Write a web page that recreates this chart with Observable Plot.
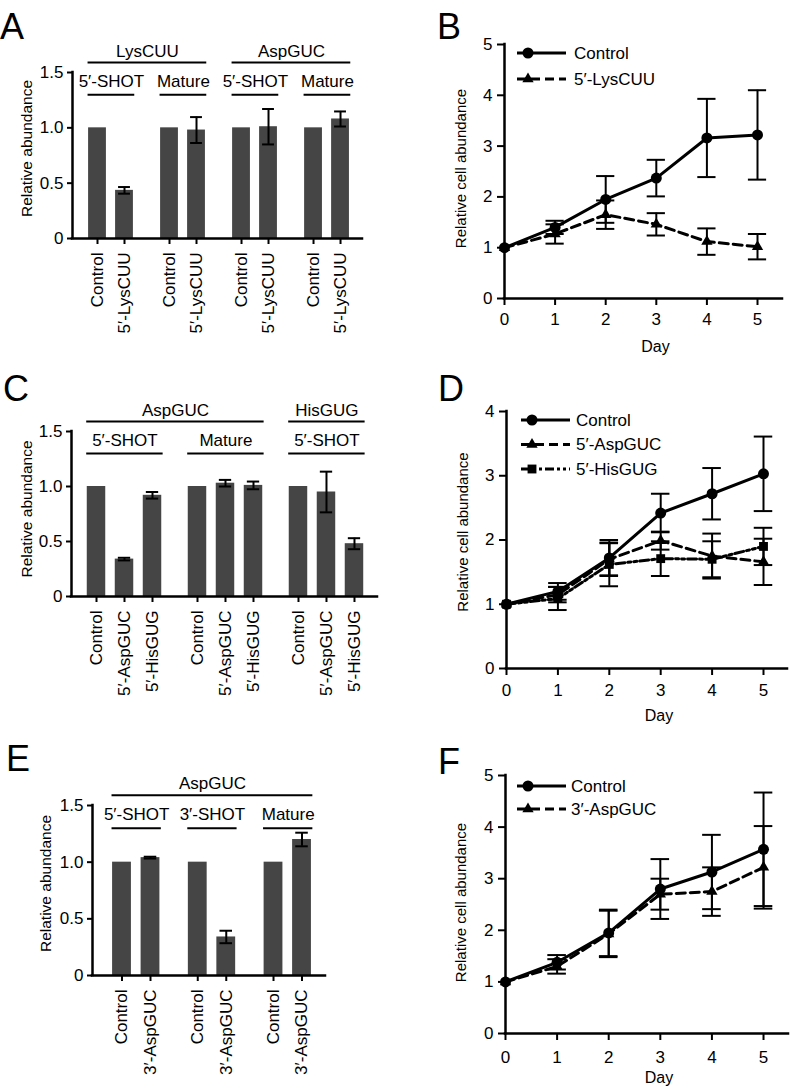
<!DOCTYPE html>
<html><head><meta charset="utf-8">
<script src="https://cdn.jsdelivr.net/npm/d3@7"></script>
<script src="https://cdn.jsdelivr.net/npm/@observablehq/plot@0.6"></script>
<style>
body{margin:0;background:#fff;}
#fig{position:relative;width:793px;height:1089px;overflow:hidden;font-family:"Liberation Sans",Arial,Helvetica,sans-serif;color:#000;}
.letter{position:absolute;font-size:36px;line-height:36px;}
</style></head><body><div id="fig"></div>
<script>
// ---------- Panel A data ----------
const aCategories = ["Control", "5′-LysCUU"];
const aSubgroups = ["5′-SHOT", "Mature", "5′-SHOT", "Mature"];
const aSupergroups = ["LysCUU", "AspGUC"];
const aSuperSpan = [[0, 1], [2, 3]];
const aValues = [1.0, 0.435, 1.0, 0.98, 1.0, 1.01, 1.0, 1.08];
const aErrors = [0, 0.03, 0, 0.117, 0, 0.16, 0, 0.068];

// ---------- Panel C data ----------
const cCategories = ["Control", "5′-AspGUC", "5′-HisGUG"];
const cSubgroups = ["5′-SHOT", "Mature", "5′-SHOT"];
const cSupergroups = ["AspGUC", "HisGUG"];
const cSuperSpan = [[0, 1], [2, 2]];
const cValues = [1.0, 0.34, 0.92, 1.0, 1.03, 1.01, 1.0, 0.95, 0.48];
const cErrors = [0, 0.012, 0.03, 0, 0.03, 0.035, 0, 0.185, 0.05];

// ---------- Panel E data ----------
const eCategories = ["Control", "3′-AspGUC"];
const eSubgroups = ["5′-SHOT", "3′-SHOT", "Mature"];
const eSupergroups = ["AspGUC"];
const eSuperSpan = [[0, 2]];
const eValues = [1.0, 1.04, 1.0, 0.34, 1.0, 1.2];
const eErrors = [0, 0.008, 0, 0.055, 0, 0.06];

const barTicks = [0, 0.5, 1.0, 1.5];

// ---------- Growth curves ----------
const days = [0, 1, 2, 3, 4, 5];
// B
const bControl = [1, 1.4, 1.95, 2.37, 3.16, 3.22];
const bControlErr = [0, 0.13, 0.46, 0.36, 0.77, 0.88];
const bLys = [1, 1.27, 1.65, 1.46, 1.12, 1.02];
const bLysErr = [0, 0.19, 0.28, 0.22, 0.26, 0.25];
// D
const dControl = [1, 1.2, 1.72, 2.42, 2.72, 3.03];
const dControlErr = [0, 0.13, 0.28, 0.3, 0.4, 0.58];
const dAsp = [1, 1.15, 1.7, 1.99, 1.75, 1.66];
const dAspErr = [0, 0.12, 0.25, 0.14, 0.35, 0.36];
const dHis = [1, 1.09, 1.62, 1.71, 1.7, 1.9];
const dHisErr = [0, 0.18, 0.34, 0.27, 0.28, 0.29];
// F
const fControl = [1, 1.38, 1.95, 2.8, 3.13, 3.57];
const fControlErr = [0, 0.14, 0.45, 0.58, 0.72, 1.1];
const fAsp = [1, 1.3, 1.93, 2.7, 2.75, 3.22];
const fAspErr = [0, 0.14, 0.45, 0.3, 0.47, 0.8];

// ---------- styling ----------
const FONT = "'Liberation Sans', Arial, Helvetica, sans-serif";
const BAR = "#454545";
const SUB_LINE = 1.30, SUB_TEXT = 1.42, SUP_LINE = 1.59, SUP_TEXT = 1.69;
const fig = document.getElementById("fig");
const baseStyle = {fontFamily: FONT, fontSize: "16px", background: "transparent", overflow: "visible", color: "#000"};

function place(node, left, top) {
  node.style.position = "absolute";
  node.style.left = left + "px";
  node.style.top = top + "px";
  fig.appendChild(node);
}

function letter(t, left, top) {
  const d = document.createElement("div");
  d.className = "letter";
  d.textContent = t;
  d.style.left = left + "px";
  d.style.top = top + "px";
  fig.appendChild(d);
}

function barPanel(c) {
  const n = c.categories.length;
  const hw = 0.33, cw = 0.22;
  const rows = c.values.map((v, k) => {
    const g = Math.floor(k / n), i = k % n;
    return {pos: g * c.groupStep + i, v, e: c.errors[k], label: c.categories[i]};
  });
  const errRows = rows.filter(d => d.e > 0);
  const sub = c.subgroups.map((name, g) => ({name, x1: g * c.groupStep - hw - 0.02, x2: g * c.groupStep + (n - 1) + hw + 0.05}));
  const sup = c.supergroups.map((name, s) => ({name, x1: sub[c.superSpan[s][0]].x1, x2: sub[c.superSpan[s][1]].x2}));
  const mid = d => (d.x1 + d.x2) / 2;
  const labelOf = p => (rows.find(r => Math.abs(r.pos - p) < 1e-6) || {label: ""}).label;
  const chart = Plot.plot({
    width: c.width, height: c.height,
    marginLeft: c.marginLeft, marginRight: c.marginRight, marginTop: c.marginTop, marginBottom: c.marginBottom,
    style: baseStyle,
    x: {domain: c.xDomain, axis: null},
    y: {domain: [0, 1.5], axis: null},
    marks: [
      Plot.rectY(rows, {x1: d => d.pos - hw, x2: d => d.pos + hw, y1: 0, y2: "v", fill: BAR}),
      Plot.ruleX(errRows, {x: "pos", y1: d => d.v - d.e, y2: d => d.v + d.e, stroke: "#000", strokeWidth: 2}),
      Plot.ruleY(errRows, {y: d => d.v + d.e, x1: d => d.pos - cw, x2: d => d.pos + cw, stroke: "#000", strokeWidth: 2}),
      Plot.ruleY(errRows, {y: d => d.v - d.e, x1: d => d.pos - cw, x2: d => d.pos + cw, stroke: "#000", strokeWidth: 2}),
      Plot.ruleX([c.xDomain[0]], {y1: 0, y2: 1.5, stroke: "#000", strokeWidth: 2.5, strokeLinecap: "square"}),
      Plot.ruleY([0], {x1: c.xDomain[0], x2: c.xDomain[1], stroke: "#000", strokeWidth: 2.5, strokeLinecap: "square"}),
      Plot.axisY({ticks: barTicks, tickFormat: d => d === 0 ? "0" : d.toFixed(1), tickSize: 5, tickPadding: 4, strokeWidth: 2, fontSize: 17, label: null}),
      Plot.axisX({ticks: rows.map(d => d.pos), tickFormat: labelOf, tickRotate: -90, tickSize: 6, tickPadding: 8, strokeWidth: 2, fontSize: 17, label: null}),
      Plot.text(["Relative abundance"], {frameAnchor: "left", textAnchor: "middle", rotate: -90, lineAnchor: "top", dx: c.labelDx, dy: c.labelDy, fontSize: 15.5, text: d => d}),
      Plot.ruleY(sub, {y: SUB_LINE, x1: "x1", x2: "x2", stroke: "#000", strokeWidth: 2}),
      Plot.text(sub, {x: mid, y: SUB_TEXT, text: "name", fontSize: 17}),
      Plot.ruleY(sup, {y: SUP_LINE, x1: "x1", x2: "x2", stroke: "#000", strokeWidth: 2}),
      Plot.text(sup, {x: mid, y: SUP_TEXT, text: "name", fontSize: 17})
    ]
  });
  place(chart, c.left, c.top);
}

function linePanel(c) {
  const marks = [];
  const rowsOf = s => days.map((d, i) => ({day: d, v: s.values[i], e: s.errors[i]}));
  for (const s of c.series) {
    const er = rowsOf(s).filter(d => d.e > 0);
    marks.push(Plot.ruleX(er, {x: "day", y1: d => d.v - d.e, y2: d => d.v + d.e, stroke: "#000", strokeWidth: 2}));
    marks.push(Plot.ruleY(er, {y: d => d.v + d.e, x1: d => d.day - c.cap, x2: d => d.day + c.cap, stroke: "#000", strokeWidth: 2}));
    marks.push(Plot.ruleY(er, {y: d => d.v - d.e, x1: d => d.day - c.cap, x2: d => d.day + c.cap, stroke: "#000", strokeWidth: 2}));
  }
  for (const s of [...c.series].reverse()) {
    marks.push(Plot.line(rowsOf(s), {x: "day", y: "v", stroke: "#000", strokeWidth: 3, strokeDasharray: s.dash}));
  }
  for (const s of c.series) {
    marks.push(Plot.dot(rowsOf(s), {x: "day", y: "v", symbol: s.symbol, r: s.r, fill: "#000", stroke: "none"}));
  }
  const yMax = c.yDomain[1];
  marks.push(
    Plot.ruleX([0], {y1: 0, y2: yMax, stroke: "#000", strokeWidth: 2.5, strokeLinecap: "square"}),
    Plot.ruleY([0], {x1: 0, x2: c.xDomain[1], stroke: "#000", strokeWidth: 2.5, strokeLinecap: "square"}),
    Plot.axisY({ticks: d3.range(0, yMax + 1), tickFormat: d => String(d), tickSize: 7, tickPadding: 5, strokeWidth: 2, fontSize: 17, label: null}),
    Plot.axisX({ticks: days, tickFormat: d => String(d), tickSize: 7, tickPadding: c.xPad, strokeWidth: 2, fontSize: 17, label: null}),
    Plot.text(["Relative cell abundance"], {frameAnchor: "left", textAnchor: "middle", rotate: -90, lineAnchor: "top", dx: c.labelDx, dy: c.labelDy, fontSize: 15, text: d => d}),
    Plot.text(["Day"], {frameAnchor: "bottom", textAnchor: "middle", lineAnchor: "middle", dx: 12, dy: c.dayDy, fontSize: 16, text: d => d})
  );
  const chart = Plot.plot({
    width: c.width, height: c.height,
    marginLeft: c.marginLeft, marginRight: c.marginRight, marginTop: c.marginTop, marginBottom: c.marginBottom,
    style: baseStyle,
    x: {domain: c.xDomain, axis: null},
    y: {domain: c.yDomain, axis: null},
    marks
  });
  place(chart, c.left, c.top);
  legend(c.legend, c.series);
}

const SYM = {circle: d3.symbolCircle, triangle: d3.symbolTriangle, square: d3.symbolSquare};
function legend(L, series) {
  const svg = d3.select(fig).append("svg")
    .style("position", "absolute").style("left", L.left + "px").style("top", L.top + "px")
    .attr("width", 200).attr("height", L.gap * series.length + 10);
  series.forEach((s, i) => {
    const g = svg.append("g").attr("transform", `translate(0,${8 + i * L.gap})`);
    g.append("line").attr("x1", 0).attr("x2", 49).attr("stroke", "#000").attr("stroke-width", 3)
      .attr("stroke-dasharray", s.dash || null);
    g.append("path").attr("d", d3.symbol(SYM[s.symbol], Math.PI * s.r * s.r)()).attr("transform", "translate(11,0)").attr("fill", "#000");
    g.append("text").attr("x", L.textX).attr("dy", "0.35em").attr("font-size", 17).attr("font-family", FONT).text(s.name);
  });
}

// ---------- render ----------
letter("A", 0, 9); letter("B", 437, 9);
letter("C", 3, 371); letter("D", 438, 371);
letter("E", 6, 741); letter("F", 438, 744);

barPanel({categories: aCategories, subgroups: aSubgroups, supergroups: aSupergroups, superSpan: aSuperSpan,
  values: aValues, errors: aErrors, left: 0, top: 0, width: 390, height: 338,
  marginLeft: 72, marginRight: 28, marginTop: 72, marginBottom: 100, xDomain: [-0.926, 9.815], groupStep: 2.667, labelDx: -52, labelDy: -7});
barPanel({categories: cCategories, subgroups: cSubgroups, supergroups: cSupergroups, superSpan: cSuperSpan,
  values: cValues, errors: cErrors, left: 0, top: 340, width: 390, height: 356,
  marginLeft: 71, marginRight: 13, marginTop: 91, marginBottom: 100, xDomain: [-0.893, 10.036], groupStep: 3.607, labelDx: -51, labelDy: -5});
barPanel({categories: eCategories, subgroups: eSubgroups, supergroups: eSupergroups, superSpan: eSuperSpan,
  values: eValues, errors: eErrors, left: 0, top: 700, width: 390, height: 375,
  marginLeft: 92, marginRight: 65, marginTop: 105, marginBottom: 100, xDomain: [-1.035, 7.14], groupStep: 2.658, labelDx: -53, labelDy: -7});

linePanel({left: 400, top: 0, width: 393, height: 358, marginLeft: 104, marginRight: 11, marginTop: 44, marginBottom: 60,
  xDomain: [0, 5.494], yDomain: [0, 5], cap: 0.18, xPad: 7, labelDx: -49, labelDy: -3, dayDy: 48,
  series: [
    {name: "Control", values: bControl, errors: bControlErr, symbol: "circle", r: 5.5, dash: null},
    {name: "5′-LysCUU", values: bLys, errors: bLysErr, symbol: "triangle", r: 4.2, dash: "9,5"}
  ],
  legend: {left: 517, top: 45, gap: 26, textX: 57}});
linePanel({left: 400, top: 340, width: 393, height: 388, marginLeft: 106, marginRight: 6, marginTop: 71, marginBottom: 60,
  xDomain: [0, 5.467], yDomain: [0, 4], cap: 0.18, xPad: 8, labelDx: -49, labelDy: -8, dayDy: 47,
  series: [
    {name: "Control", values: dControl, errors: dControlErr, symbol: "circle", r: 5.5, dash: null},
    {name: "5′-AspGUC", values: dAsp, errors: dAspErr, symbol: "triangle", r: 4.2, dash: "9,5"},
    {name: "5′-HisGUG", values: dHis, errors: dHisErr, symbol: "square", r: 5, dash: "9,3,3,3,3,3"}
  ],
  legend: {left: 521, top: 412, gap: 24.5, textX: 55}});
linePanel({left: 400, top: 700, width: 393, height: 389, marginLeft: 105, marginRight: 5, marginTop: 75, marginBottom: 56,
  xDomain: [0, 5.484], yDomain: [0, 5], cap: 0.18, xPad: 10, labelDx: -50, labelDy: -2, dayDy: 44,
  series: [
    {name: "Control", values: fControl, errors: fControlErr, symbol: "circle", r: 5.5, dash: null},
    {name: "3′-AspGUC", values: fAsp, errors: fAspErr, symbol: "triangle", r: 4.2, dash: "9,5"}
  ],
  legend: {left: 517, top: 778, gap: 23, textX: 54}});
</script></body></html>
